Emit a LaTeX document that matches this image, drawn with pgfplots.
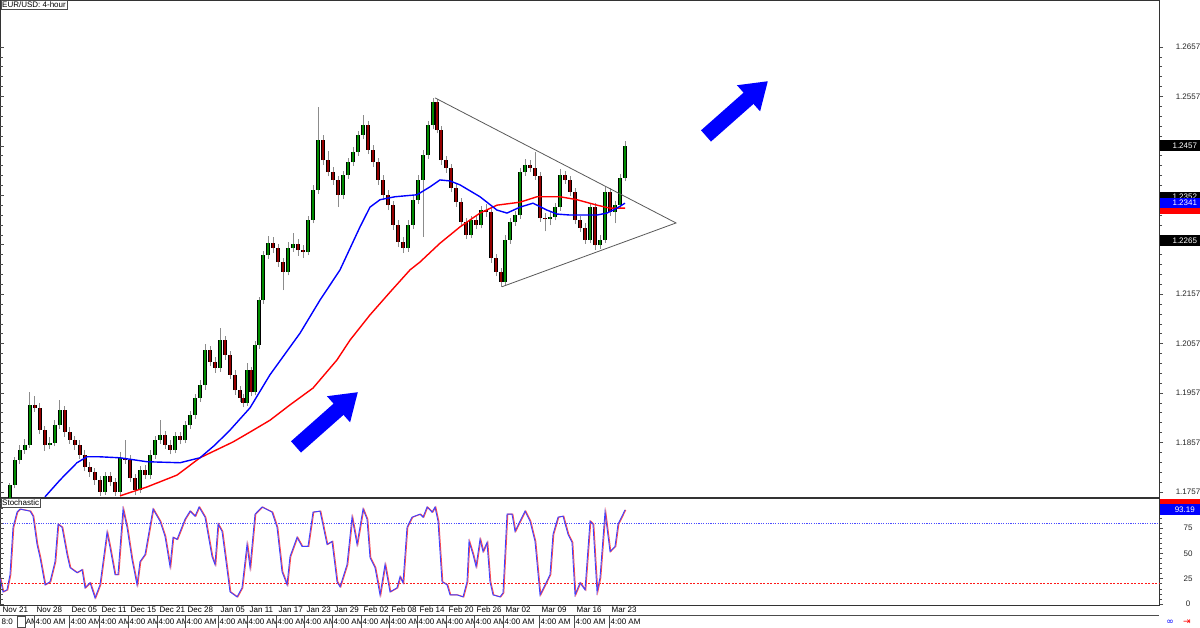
\documentclass[border=0pt]{standalone}
\usepackage{pgfplots}
\pgfplotsset{compat=1.18}
\usepackage{pgfplotstable}
\usepackage{fontspec}
\setmainfont{Liberation Sans}
\newfontfamily\symfont{DejaVu Sans}
\usetikzlibrary{arrows.meta}

\definecolor{upc}{RGB}{0,140,0}
\definecolor{dnc}{RGB}{150,0,0}
\definecolor{wick}{RGB}{140,140,140}

% 4-hour candles, x = position along the time axis
\pgfplotstableread{
x o h l c
10 1.1742 1.1776 1.1736 1.1771
15 1.1771 1.1828 1.1764 1.1822
20 1.1822 1.1851 1.1813 1.1842
25 1.1842 1.1864 1.1834 1.1852
30 1.1852 1.1959 1.1846 1.1933
35 1.1933 1.1950 1.1919 1.1927
40 1.1927 1.1936 1.1874 1.1882
45 1.1882 1.1891 1.1840 1.1852
50 1.1852 1.1868 1.1843 1.1856
55 1.1856 1.1903 1.1849 1.1892
60 1.1892 1.1943 1.1884 1.1923
65 1.1923 1.1931 1.1869 1.1878
70 1.1878 1.1888 1.1854 1.1862
75 1.1862 1.1871 1.1842 1.1852
80 1.1852 1.1861 1.1824 1.1832
85 1.1832 1.1841 1.1799 1.1807
90 1.1807 1.1818 1.1788 1.1797
95 1.1797 1.1806 1.1771 1.1781
100 1.1781 1.1789 1.1749 1.1757
105 1.1757 1.1797 1.1751 1.1789
110 1.1789 1.1798 1.1768 1.1777
115 1.1777 1.1785 1.1749 1.1757
120 1.1757 1.1838 1.1751 1.1826
125 1.1826 1.1862 1.1814 1.1822
130 1.1822 1.1831 1.1777 1.1785
135 1.1785 1.1793 1.1750 1.1761
140 1.1761 1.1809 1.1754 1.1801
145 1.1801 1.1811 1.1783 1.1791
150 1.1791 1.1841 1.1784 1.1832
155 1.1832 1.1871 1.1824 1.1862
160 1.1862 1.1902 1.1854 1.1872
165 1.1872 1.1881 1.1844 1.1852
170 1.1852 1.1861 1.1833 1.1842
175 1.1842 1.1879 1.1835 1.1870
180 1.1870 1.1878 1.1853 1.1862
185 1.1862 1.1901 1.1855 1.1892
190 1.1892 1.1921 1.1884 1.1913
195 1.1913 1.1956 1.1905 1.1947
200 1.1947 1.1983 1.1939 1.1973
205 1.1973 1.2057 1.1964 1.2044
210 1.2044 1.2053 1.2011 1.2020
215 1.2020 1.2029 1.1998 1.2008
220 1.2008 1.2089 1.2000 1.2064
225 1.2064 1.2073 1.2024 1.2034
230 1.2034 1.2043 1.1985 1.1994
235 1.1994 1.2003 1.1954 1.1963
240 1.1963 1.1971 1.1939 1.1947
243 1.1947 1.1955 1.1928 1.1937
247 1.1937 1.2018 1.1931 1.2004
251 1.2004 1.2010 1.1950 1.1959
255 1.1959 1.2063 1.1952 1.2054
259 1.2054 1.2152 1.2046 1.2145
263 1.2145 1.2244 1.2138 1.2236
268 1.2236 1.2275 1.2228 1.2261
273 1.2261 1.2272 1.2240 1.2250
278 1.2250 1.2258 1.2212 1.2222
283 1.2222 1.2230 1.2165 1.2202
288 1.2202 1.2262 1.2195 1.2250
293 1.2250 1.2281 1.2243 1.2259
298 1.2259 1.2268 1.2235 1.2246
303 1.2246 1.2256 1.2230 1.2242
308 1.2242 1.2316 1.2236 1.2307
313 1.2307 1.2378 1.2300 1.2368
318 1.2368 1.2536 1.2360 1.2469
323 1.2469 1.2479 1.2418 1.2428
328 1.2428 1.2446 1.2395 1.2404
333 1.2404 1.2415 1.2378 1.2388
338 1.2388 1.2396 1.2333 1.2358
343 1.2358 1.2407 1.2350 1.2398
348 1.2398 1.2433 1.2390 1.2424
353 1.2424 1.2454 1.2416 1.2445
358 1.2445 1.2488 1.2437 1.2479
363 1.2479 1.2519 1.2470 1.2499
368 1.2499 1.2508 1.2440 1.2449
373 1.2449 1.2458 1.2415 1.2424
378 1.2424 1.2433 1.2378 1.2388
383 1.2388 1.2397 1.2348 1.2358
388 1.2358 1.2367 1.2327 1.2337
393 1.2337 1.2346 1.2287 1.2297
398 1.2297 1.2306 1.2252 1.2263
403 1.2263 1.2272 1.2240 1.2250
408 1.2250 1.2306 1.2243 1.2297
413 1.2297 1.2357 1.2289 1.2348
418 1.2348 1.2397 1.2340 1.2388
423 1.2388 1.2448 1.2273 1.2439
428 1.2439 1.2508 1.2431 1.2499
433 1.2499 1.2554 1.2491 1.2546
437 1.2546 1.2552 1.2482 1.2490
441 1.2490 1.2497 1.2419 1.2428
446 1.2428 1.2437 1.2403 1.2412
451 1.2412 1.2421 1.2363 1.2372
456 1.2372 1.2381 1.2334 1.2343
461 1.2343 1.2352 1.2294 1.2303
466 1.2303 1.2312 1.2268 1.2277
471 1.2277 1.2316 1.2270 1.2307
476 1.2307 1.2318 1.2288 1.2297
481 1.2297 1.2336 1.2290 1.2327
486 1.2327 1.2340 1.2314 1.2323
491 1.2323 1.2331 1.2221 1.2230
496 1.2230 1.2239 1.2193 1.2202
501 1.2202 1.2210 1.2172 1.2182
505 1.2182 1.2276 1.2175 1.2267
510 1.2267 1.2312 1.2259 1.2303
515 1.2303 1.2326 1.2295 1.2317
520 1.2317 1.2413 1.2309 1.2404
525 1.2404 1.2430 1.2396 1.2418
530 1.2418 1.2428 1.2404 1.2412
535 1.2412 1.2445 1.2388 1.2396
540 1.2396 1.2404 1.2303 1.2311
545 1.2311 1.2322 1.2284 1.2309
550 1.2309 1.2323 1.2296 1.2313
555 1.2313 1.2342 1.2306 1.2333
560 1.2333 1.2410 1.2326 1.2398
565 1.2398 1.2406 1.2380 1.2388
570 1.2388 1.2396 1.2356 1.2364
575 1.2364 1.2372 1.2298 1.2307
580 1.2307 1.2315 1.2283 1.2291
585 1.2291 1.2300 1.2259 1.2267
590 1.2267 1.2342 1.2260 1.2333
595 1.2333 1.2341 1.2246 1.2256
600 1.2256 1.2276 1.2249 1.2267
605 1.2267 1.2373 1.2260 1.2364
610 1.2364 1.2372 1.2315 1.2323
615 1.2323 1.2345 1.2300 1.2337
620 1.2337 1.2400 1.2330 1.2392
625 1.2392 1.2466 1.2385 1.2457
}\candles

% moving averages
\pgfplotstableread{
x p
45 1.1747
60 1.1781
77 1.1816
87 1.1828
100 1.1828
120 1.1826
147 1.1818
180 1.1816
200 1.1826
215 1.1852
230 1.1882
250 1.1927
270 1.1994
300 1.2078
320 1.2145
340 1.2206
360 1.2293
370 1.2333
380 1.2348
395 1.2354
417 1.2358
430 1.2374
440 1.2388
450 1.2386
460 1.2378
480 1.2354
497 1.2327
507 1.2321
520 1.2333
533 1.2341
547 1.2327
557 1.2319
570 1.2317
597 1.2317
607 1.2321
617 1.2331
625 1.2341
}\mablue

\pgfplotstableread{
x p
120 1.1749
147 1.1767
177 1.1791
200 1.1826
233 1.1858
250 1.1878
270 1.1902
290 1.1933
313 1.1967
337 1.2024
350 1.2064
370 1.2115
390 1.2161
410 1.2206
420 1.2222
440 1.2260
460 1.2293
480 1.2321
497 1.2337
520 1.2343
537 1.2354
560 1.2354
577 1.2348
597 1.2337
610 1.2331
625 1.2331
}\mared

% stochastic %K
\pgfplotstableread{
x v
0 26
3 12
7 14
10 29
13 76
17 91
20 94
30 92
33 87
37 59
40 46
45 19
50 22
55 42
58 79
62 76
67 49
70 36
77 31
82 34
85 16
90 21
95 6
100 19
107 71
110 56
115 29
118 29
123 94
127 76
132 44
137 19
140 42
145 49
153 94
160 82
165 67
170 37
173 66
177 64
185 84
190 92
195 87
199 96
205 86
212 47
215 39
218 79
222 72
230 12
237 7
242 16
247 59
250 36
255 89
262 96
272 91
277 76
282 32
287 19
290 47
297 66
302 57
308 57
313 91
320 92
327 59
332 62
337 22
340 17
347 39
352 86
357 59
363 94
367 84
370 46
375 36
380 9
385 39
390 12
397 16
400 27
403 21
407 76
412 86
420 89
423 86
427 96
432 91
435 96
438 82
442 22
447 19
450 9
457 9
463 7
467 22
469 62
473 49
476 37
480 64
483 52
487 61
490 22
493 9
500 7
503 11
507 89
512 89
515 72
520 82
525 92
530 82
535 62
540 9
545 19
550 29
553 69
558 86
563 87
568 69
572 61
575 9
580 21
585 14
590 82
593 79
597 12
600 26
605 91
610 52
615 57
618 79
625 93.19
}\stoch

\pgfplotsset{
  chart/.style={scale only axis, width=1159pt, xmin=0, xmax=1159, xtick=\empty,
    axis line style={black!80, line width=0.8pt}, clip=false,
    tick style={black!70, line width=0.6pt},
    major tick length=4pt, minor tick length=3pt, minor y tick num=4,
    /pgf/number format/assume math mode=true,
    ticklabel style={font=\fontsize{8}{9.6}\selectfont, text=black!85}},
  pricey/.style={height=497pt, ymin=1.17467, ymax=1.2752,
    ytick={1.1757,1.1857,1.1957,1.2057,1.2157,1.2257,1.2357,1.2457,1.2557,1.2657}},
  stochy/.style={height=107pt, ymin=-1, ymax=105, ytick={0,25,50,75,100}},
  rightticks/.style={ytick pos=right, yticklabel pos=right, tick align=outside,
    yticklabel style={anchor=center, xshift=25pt}},
  leftticks/.style={ytick pos=left, tick align=inside, yticklabels={},
    axis line style={draw=none}},
  body/.style={draw=none, mark=none, forget plot, error bars/y dir=plus,
    error bars/y explicit, error bars/error mark=none}
}
\tikzset{pbox/.style={anchor=west, xshift=0.6pt, minimum width=50pt, minimum height=11pt,
  inner sep=0pt, font=\fontsize{8}{9.6}\selectfont, text=white}}

\begin{document}
\begin{tikzpicture}
\useasboundingbox (0pt,0pt) rectangle (1200pt,628pt);
\fill[white] (0pt,0pt) rectangle (1200pt,628pt);

% price panel (labels hidden behind the price boxes are left out)
\begin{axis}[chart, pricey, rightticks, at={(0pt,131pt)}, anchor=south west,
  yticklabels={1.1757,1.1857,1.1957,1.2057,1.2157,,,,1.2557,1.2657}]
\addplot[body, error bars/error bar style={line width=1pt, draw=wick}]
  table[x=x, y=l, y error expr=\thisrow{h}-\thisrow{l}] {\candles};
\addplot[body, error bars/error bar style={line width=3.4pt, draw=black}]
  table[x=x, y expr={min(\thisrow{o},\thisrow{c})}, y error expr={abs(\thisrow{c}-\thisrow{o})}] {\candles};
\addplot[body, restrict expr to domain={\thisrow{c}-\thisrow{o}}{0:1},
  error bars/error bar style={line width=1.8pt, draw=upc}]
  table[x=x, y expr={min(\thisrow{o},\thisrow{c})}, y error expr={abs(\thisrow{c}-\thisrow{o})}] {\candles};
\addplot[body, restrict expr to domain={\thisrow{c}-\thisrow{o}}{-1:0},
  error bars/error bar style={line width=1.8pt, draw=dnc}]
  table[x=x, y expr={min(\thisrow{o},\thisrow{c})}, y error expr={abs(\thisrow{c}-\thisrow{o})}] {\candles};
\addplot[red, line width=1.4pt, mark=none] table[x=x, y=p] {\mared};
\addplot[blue, line width=1.4pt, mark=none] table[x=x, y=p] {\mablue};

\draw[black!65, line width=0.8pt] (axis cs:435,1.2554) -- (axis cs:676,1.2301) -- (axis cs:502,1.2172);
\draw[blue, line width=15pt, -{Triangle[length=26pt, width=33pt]}]
  (axis cs:296,1.1848) -- (axis cs:358,1.1959);
\draw[blue, line width=15pt, -{Triangle[length=26pt, width=33pt]}]
  (axis cs:706,1.2477) -- (axis cs:768,1.2588);

\coordinate (b2457) at (axis cs:1159,1.2457);
\coordinate (b2352) at (axis cs:1159,1.2352);
\coordinate (b2341) at (axis cs:1159,1.2341);
\coordinate (b2331) at (axis cs:1159,1.2331);
\coordinate (b2265) at (axis cs:1159,1.2265);
\end{axis}
\begin{axis}[chart, pricey, leftticks, at={(0pt,131pt)}, anchor=south west]
\addplot[draw=none] coordinates {(0,1.2)};
\end{axis}

% stochastic panel
\begin{axis}[chart, stochy, rightticks, at={(0pt,23pt)}, anchor=south west,
  yticklabels={0,25,50,75,}]
\addplot[blue!70, dash pattern=on 1.2pt off 1.2pt, line width=1pt] coordinates {(0,80) (1159,80)};
\addplot[red!90, dash pattern=on 2pt off 1.5pt, line width=0.8pt] coordinates {(0,20) (1159,20)};
\addplot[red!70, line width=1pt, xshift=0.8pt] table[x=x, y=v] {\stoch};
\addplot[blue!75, line width=0.9pt] table[x=x, y=v] {\stoch};
\coordinate (s98) at (axis cs:1159,98.5);
\coordinate (s93) at (axis cs:1159,93.19);
\end{axis}
\begin{axis}[chart, stochy, leftticks, at={(0pt,23pt)}, anchor=south west]
\addplot[draw=none] coordinates {(0,50)};
\end{axis}

% right-hand price boxes (the red ones sit under the blue ones)
\node[pbox, fill=black] at (b2457) {1.2457};
\node[pbox, fill=black, minimum height=10pt, yshift=0.8pt] at (b2352) {1.2352};
\node[pbox, fill=red] at (b2331) {};
\node[pbox, fill=blue, minimum height=10pt] at (b2341) {1.2341};
\node[pbox, fill=black] at (b2265) {1.2265};
\node[pbox, fill=red] at (s98) {};
\node[pbox, fill=blue] at (s93) {93.19};

% panel captions
\node[anchor=north west, draw=black!70, fill=white, inner sep=1.5pt,
  font=\fontsize{8}{9.6}\selectfont] at (0.5pt,627.5pt) {EUR/USD: 4-hour};
\node[anchor=north west, draw=black!70, fill=white, inner sep=1.5pt,
  font=\fontsize{8}{9.6}\selectfont] at (0.5pt,129.5pt) {Stochastic};

% date strip
\draw[black!70, line width=0.6pt] (0pt,13pt) -- (1159pt,13pt);
\foreach \xx/\dd in {0/Nov 21, 34/Nov 28, 69/Dec 05, 99/Dec 11, 128/Dec 15,
  157/Dec 21, 185/Dec 28, 218/Jan 05, 247/Jan 11, 276/Jan 17, 304/Jan 23,
  332/Jan 29, 361/Feb 02, 389/Feb 08, 417/Feb 14, 446/Feb 20, 474/Feb 26,
  503/Mar 02, 539/Mar 09, 574/Mar 16, 609/Mar 23}{
  \node[anchor=west, fill=white, inner sep=1.5pt, font=\fontsize{8}{9.6}\selectfont]
    at (\xx pt+1pt,18pt) {\dd};
}
\node[anchor=west, fill=white, inner sep=1.5pt, font=\fontsize{8}{9.6}\selectfont]
  at (0pt,6.5pt) {8:0\hspace{13pt}AM};
\draw[black!70, line width=0.6pt] (17pt,1pt) rectangle (25pt,12pt);
\foreach \xx in {34,69,99,128,157,185,218,247,276,304,332,361,389,417,446,474,503,539,574,609}{
  \node[anchor=west, fill=white, inner sep=1.5pt, font=\fontsize{8}{9.6}\selectfont]
    at (\xx pt,6.5pt) {4:00 AM};
  \draw[black!70, line width=0.6pt] (\xx pt,0pt) -- (\xx pt,13pt);
}
\node[text=blue, font=\symfont\fontsize{9}{9}\selectfont] at (1170pt,6pt) {∞};
\node[text=red, font=\symfont\fontsize{9}{9}\selectfont] at (1187pt,6pt) {⇥};
\end{tikzpicture}
\end{document}
